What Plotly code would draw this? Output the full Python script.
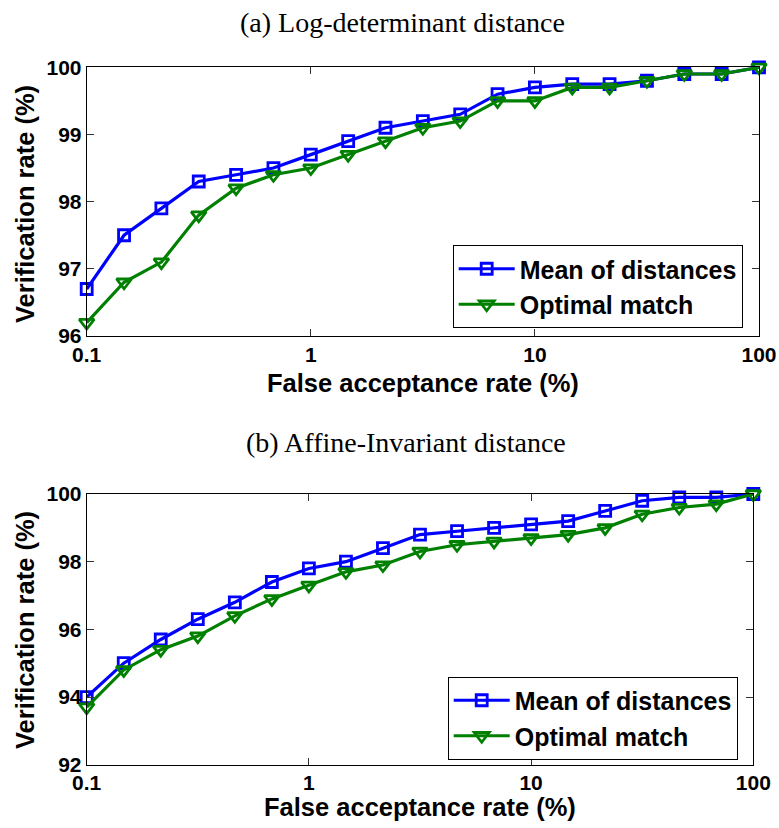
import plotly.graph_objects as go

# False acceptance rate (%) sample points, six per decade on a log axis
far = [0.1, 0.1468, 0.2154, 0.3162, 0.4642, 0.6813, 1.0, 1.468, 2.154, 3.162,
       4.642, 6.813, 10.0, 14.68, 21.54, 31.62, 46.42, 68.13, 100.0]

# (a) Log-determinant distance: verification rate (%)
logdet_mean = [96.7, 97.5, 97.9, 98.3, 98.4, 98.5, 98.7, 98.9, 99.1, 99.2,
               99.3, 99.6, 99.7, 99.75, 99.75, 99.8, 99.9, 99.9, 100.0]
logdet_opt = [96.2, 96.8, 97.1, 97.8, 98.2, 98.4, 98.5, 98.7, 98.9, 99.1,
              99.2, 99.5, 99.5, 99.7, 99.7, 99.8, 99.9, 99.9, 100.0]

# (b) Affine-Invariant distance: verification rate (%)
affine_mean = [94.0, 95.0, 95.7, 96.3, 96.8, 97.4, 97.8, 98.0, 98.4, 98.8,
               98.9, 99.0, 99.1, 99.2, 99.5, 99.8, 99.9, 99.9, 100.0]
affine_opt = [93.7, 94.8, 95.4, 95.8, 96.4, 96.9, 97.3, 97.7, 97.9, 98.3,
              98.5, 98.6, 98.7, 98.8, 99.0, 99.4, 99.6, 99.7, 100.0]

x_tickvals = [0.1, 1, 10, 100]
x_ticktext = ["0.1", "1", "10", "100"]
series_names = ["Mean of distances", "Optimal match"]
panel_titles = ["(a) Log-determinant distance", "(b) Affine-Invariant distance"]
x_label = "False acceptance rate (%)"
y_label = "Verification rate (%)"

W, H = 779, 828
BLUE = "#0000ff"
GREEN = "#008000"
SANS = "Liberation Sans, Arial, Helvetica, sans-serif"
SERIF = "Liberation Serif, Times New Roman, serif"


def px_x(p):
    return p / W


def px_y(p):
    return (H - p) / H


fig = go.Figure()

panels = [
    (logdet_mean, logdet_opt, "x", "y", "legend"),
    (affine_mean, affine_opt, "x2", "y2", "legend2"),
]
for mean_vals, opt_vals, xa, ya, lg in panels:
    fig.add_trace(go.Scatter(
        x=far, y=mean_vals, xaxis=xa, yaxis=ya, name=series_names[0],
        mode="lines+markers", legend=lg, cliponaxis=False,
        line=dict(color=BLUE, width=3.2),
        marker=dict(symbol="square-open", size=11, color=BLUE,
                    line=dict(width=2.8, color=BLUE)),
    ))
    fig.add_trace(go.Scatter(
        x=far, y=opt_vals, xaxis=xa, yaxis=ya, name=series_names[1],
        mode="lines+markers", legend=lg, cliponaxis=False,
        line=dict(color=GREEN, width=3.2),
        marker=dict(symbol="triangle-down-open", size=13, color=GREEN,
                    line=dict(width=2.8, color=GREEN)),
    ))

tick_font = dict(family=SANS, size=21, color="black", weight="bold")
common_x = dict(type="log", range=[-1, 2], tickvals=x_tickvals, ticktext=x_ticktext,
                showline=True, linecolor="black", linewidth=1, mirror="ticks",
                ticks="inside", ticklen=7, tickcolor="#333", tickwidth=1,
                showgrid=False, zeroline=False, tickfont=tick_font,
                automargin=False, fixedrange=True)
common_y = dict(showline=True, linecolor="black", linewidth=1, mirror="ticks",
                ticks="inside", ticklen=7, tickcolor="#333", tickwidth=1,
                showgrid=False, zeroline=False, tickfont=tick_font,
                automargin=False, fixedrange=True)

legend_common = dict(
    font=dict(family=SANS, size=25, color="black", weight="bold"),
    bgcolor="white", bordercolor="black", borderwidth=1,
    xanchor="right", yanchor="bottom", tracegroupgap=0,
    itemwidth=56,
)

fig.update_layout(
    width=W, height=H,
    margin=dict(l=0, r=0, t=0, b=0),
    paper_bgcolor="white", plot_bgcolor="white",
    showlegend=True,
    xaxis=dict(common_x, domain=[px_x(86.7), px_x(759)], anchor="y"),
    yaxis=dict(common_y, domain=[px_y(336), px_y(67.3)], range=[96, 100],
               dtick=1, anchor="x"),
    xaxis2=dict(common_x, domain=[px_x(86.7), px_x(753.3)], anchor="y2",
                ticklabelstandoff=-1),
    yaxis2=dict(common_y, domain=[px_y(764.7), px_y(494)], range=[92, 100],
                dtick=2, anchor="x2"),
    legend=dict(legend_common, x=px_x(742.7), y=px_y(328)),
    legend2=dict(legend_common, x=px_x(737.7), y=px_y(759.5)),
)

title_font = dict(family=SERIF, size=28, color="black")
label_font = dict(family=SANS, size=25.5, color="black", weight="bold")

annotations = [
    dict(text=panel_titles[0], x=px_x(402.7), y=px_y(22), font=title_font),
    dict(text=panel_titles[1], x=px_x(406), y=px_y(443), font=title_font),
    dict(text=x_label, x=px_x(423.5), y=px_y(383), font=label_font),
    dict(text=x_label, x=px_x(420), y=px_y(807), font=label_font),
    dict(text=y_label, x=px_x(25), y=px_y(204), font=label_font, textangle=-90),
    dict(text=y_label, x=px_x(25), y=px_y(630), font=label_font, textangle=-90),
]
for a in annotations:
    fig.add_annotation(xref="paper", yref="paper", showarrow=False,
                       xanchor="center", yanchor="middle", **a)

fig.write_html("out.html")
